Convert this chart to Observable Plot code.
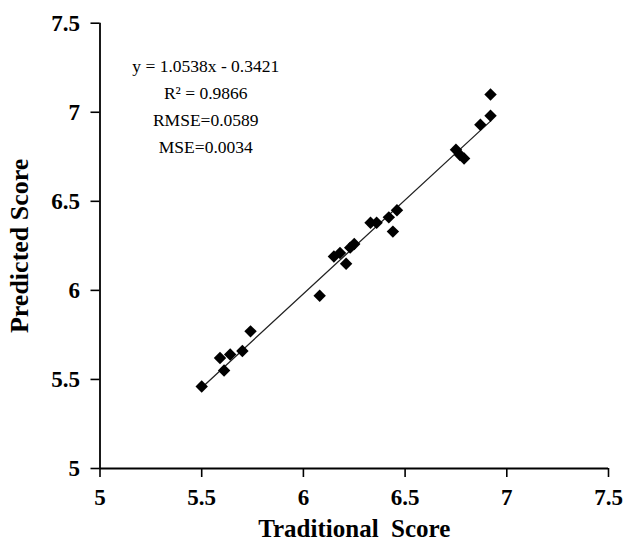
<!DOCTYPE html>
<html>
<head>
<meta charset="utf-8">
<script src="https://cdn.jsdelivr.net/npm/d3@7"></script>
<script src="https://cdn.jsdelivr.net/npm/@observablehq/plot@0.6"></script>
<style>
  html, body { margin: 0; padding: 0; background: #fff; }
  #chart { width: 630px; height: 550px; }
</style>
</head>
<body>
<div id="chart"></div>
<script>
const traditional = [5.50, 5.59, 5.61, 5.64, 5.70, 5.74, 6.08, 6.15, 6.18, 6.21, 6.23, 6.25, 6.33, 6.36, 6.42, 6.46, 6.44, 6.75, 6.77, 6.79, 6.87, 6.92, 6.92];
const predicted   = [5.46, 5.62, 5.55, 5.64, 5.66, 5.77, 5.97, 6.19, 6.21, 6.15, 6.24, 6.26, 6.38, 6.38, 6.41, 6.45, 6.33, 6.79, 6.76, 6.74, 6.93, 7.10, 6.98];
const slope = 1.0538, intercept = -0.3421;
const ticks = [5, 5.5, 6, 6.5, 7, 7.5];
const statLines = ["y = 1.0538x - 0.3421", "R\u00B2 = 0.9866", "RMSE=0.0589", "MSE=0.0034"];

const points = traditional.map((x, i) => ({x, y: predicted[i]}));
const xMin = d3.min(traditional), xMax = d3.max(traditional);
const fit = [xMin, xMax].map(x => ({x, y: slope * x + intercept}));

const serif = "'Liberation Serif', 'Times New Roman', serif";

const statMarks = statLines.map((t, i) => Plot.text([t], {
  x: () => 5.52, y: () => 7.255, text: d => d, dy: i * 26.7,
  fontSize: 17.5, fontFamily: serif, fill: "#000", textAnchor: "middle"
}));

const chart = Plot.plot({
  width: 630,
  height: 550,
  marginLeft: 99.5,
  marginRight: 22,
  marginTop: 22.7,
  marginBottom: 82,
  style: {fontFamily: serif, background: "#fff", color: "#000"},
  x: {domain: [5, 7.5], ticks: ticks, tickFormat: d => String(d), label: null},
  y: {domain: [5, 7.5], ticks: ticks, tickFormat: d => String(d), label: null},
  marks: [
    Plot.axisX({ticks, tickSize: 9, tickPadding: 11, fontSize: 23, fontWeight: "bold", tickFormat: d => String(d), stroke: "#000", strokeWidth: 1.6, strokeOpacity: 1, label: null}),
    Plot.axisY({ticks, tickSize: 9, tickPadding: 11, fontSize: 23, fontWeight: "bold", tickFormat: d => String(d), stroke: "#000", strokeWidth: 1.6, strokeOpacity: 1, label: null}),
    Plot.ruleX([5], {stroke: "#000", strokeWidth: 1.8}),
    Plot.ruleY([5], {stroke: "#000", strokeWidth: 1.8}),
    Plot.line(fit, {x: "x", y: "y", stroke: "#222", strokeWidth: 1.3}),
    Plot.dot(points, {x: "x", y: "y", symbol: "diamond2", r: 5.6, fill: "#000", stroke: "none"}),
    ...statMarks,
    Plot.text(["Traditional  Score"], {
      frameAnchor: "bottom", dy: 68, textAnchor: "middle", fontSize: 25, fontWeight: "bold", fontFamily: serif, fill: "#000"
    }),
    Plot.text(["Predicted Score"], {
      frameAnchor: "left", dx: -80, textAnchor: "middle", rotate: -90, fontSize: 26, fontWeight: "bold", fontFamily: serif, fill: "#000"
    })
  ]
});
chart.querySelectorAll("text").forEach(t => t.style.whiteSpace = "pre");
document.getElementById("chart").appendChild(chart);
</script>
</body>
</html>
